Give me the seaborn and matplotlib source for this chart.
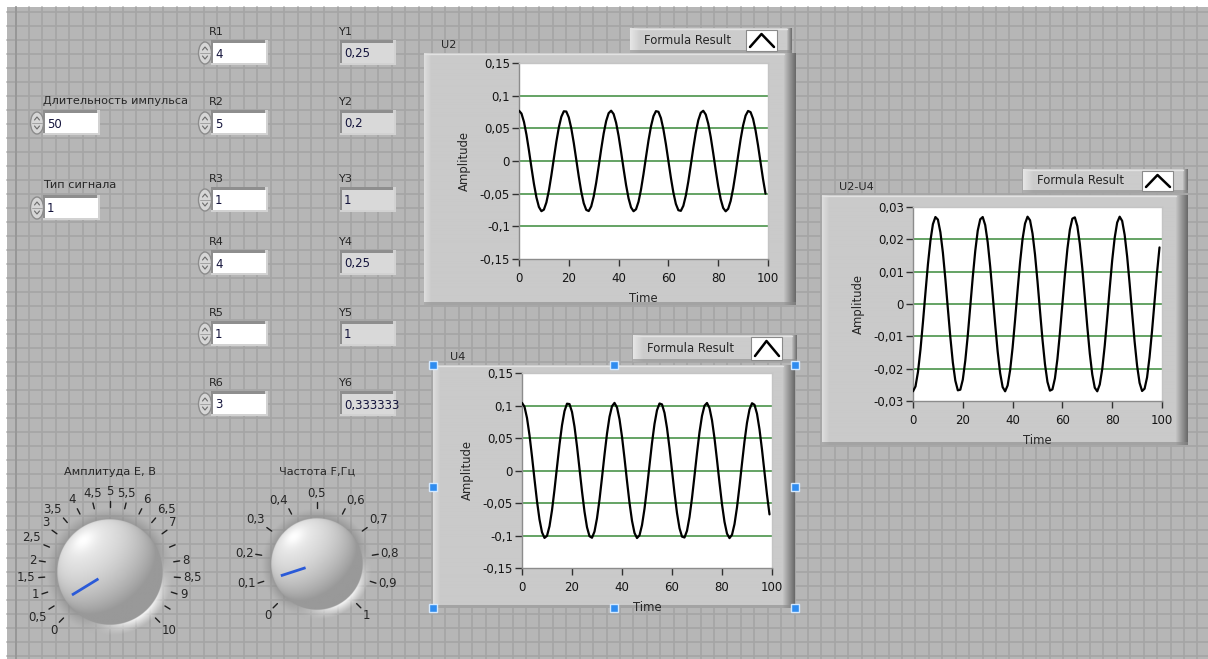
import numpy as np
import matplotlib
matplotlib.use("Agg")
import matplotlib.pyplot as plt
import seaborn as sns
from matplotlib.patches import Rectangle, Ellipse

sns.set_style("white")
plt.rcParams['font.family'] = ['DejaVu Sans']
FS = 8.1
W, H = 1208, 659

# ---------- data ----------
time = list(range(100))

u2 = [0.0770, 0.0726, 0.0598, 0.0402, 0.0160, -0.0101, -0.0350, -0.0558, -0.0704, -0.0768,
      -0.0744, -0.0634, -0.0453, -0.0219, 0.0040, 0.0295, 0.0515, 0.0677, 0.0761, 0.0757,
      0.0667, 0.0500, 0.0276, 0.0020, -0.0238, -0.0469, -0.0646, -0.0748, -0.0766, -0.0695,
      -0.0544, -0.0332, -0.0081, 0.0179, 0.0420, 0.0611, 0.0732, 0.0770, 0.0719, 0.0585,
      0.0385, 0.0140, -0.0120, -0.0367, -0.0572, -0.0711, -0.0769, -0.0738, -0.0623, -0.0436,
      -0.0199, 0.0060, 0.0313, 0.0530, 0.0686, 0.0763, 0.0753, 0.0657, 0.0484, 0.0257,
      0.0000, -0.0257, -0.0484, -0.0657, -0.0753, -0.0763, -0.0686, -0.0530, -0.0313, -0.0060,
      0.0199, 0.0436, 0.0623, 0.0738, 0.0769, 0.0711, 0.0572, 0.0367, 0.0120, -0.0140,
      -0.0385, -0.0585, -0.0719, -0.0770, -0.0732, -0.0611, -0.0420, -0.0179, 0.0081, 0.0332,
      0.0544, 0.0695, 0.0766, 0.0748, 0.0646, 0.0469, 0.0238, -0.0020, -0.0276, -0.0500]

u4 = [0.1040, 0.0981, 0.0808, 0.0543, 0.0216, -0.0136, -0.0472, -0.0754, -0.0951, -0.1037,
      -0.1005, -0.0857, -0.0612, -0.0295, 0.0054, 0.0398, 0.0696, 0.0914, 0.1028, 0.1022,
      0.0901, 0.0675, 0.0372, 0.0027, -0.0321, -0.0633, -0.0873, -0.1011, -0.1035, -0.0939,
      -0.0735, -0.0448, -0.0109, 0.0242, 0.0567, 0.0825, 0.0989, 0.1040, 0.0971, 0.0790,
      0.0520, 0.0189, -0.0162, -0.0496, -0.0773, -0.0961, -0.1039, -0.0997, -0.0841, -0.0589,
      -0.0269, 0.0081, 0.0423, 0.0716, 0.0927, 0.1031, 0.1017, 0.0887, 0.0654, 0.0347,
      0.0000, -0.0347, -0.0654, -0.0887, -0.1017, -0.1031, -0.0927, -0.0716, -0.0423, -0.0081,
      0.0269, 0.0589, 0.0841, 0.0997, 0.1039, 0.0961, 0.0773, 0.0496, 0.0162, -0.0189,
      -0.0520, -0.0790, -0.0971, -0.1040, -0.0989, -0.0825, -0.0567, -0.0242, 0.0109, 0.0448,
      0.0735, 0.0939, 0.1035, 0.1011, 0.0873, 0.0633, 0.0321, -0.0027, -0.0372, -0.0675]

u2_u4 = [-0.0270, -0.0255, -0.0210, -0.0141, -0.0056, 0.0035, 0.0123, 0.0196, 0.0247, 0.0269,
         0.0261, 0.0222, 0.0159, 0.0077, -0.0014, -0.0103, -0.0181, -0.0237, -0.0267, -0.0265,
         -0.0234, -0.0175, -0.0097, -0.0007, 0.0083, 0.0164, 0.0227, 0.0262, 0.0269, 0.0244,
         0.0191, 0.0116, 0.0028, -0.0063, -0.0147, -0.0214, -0.0257, -0.0270, -0.0252, -0.0205,
         -0.0135, -0.0049, 0.0042, 0.0129, 0.0201, 0.0249, 0.0270, 0.0259, 0.0218, 0.0153,
         0.0070, -0.0021, -0.0110, -0.0186, -0.0241, -0.0268, -0.0264, -0.0230, -0.0170, -0.0090,
         0.0000, 0.0090, 0.0170, 0.0230, 0.0264, 0.0268, 0.0241, 0.0186, 0.0110, 0.0021,
         -0.0070, -0.0153, -0.0218, -0.0259, -0.0270, -0.0249, -0.0201, -0.0129, -0.0042, 0.0049,
         0.0135, 0.0205, 0.0252, 0.0270, 0.0257, 0.0214, 0.0147, 0.0063, -0.0028, -0.0116,
         -0.0191, -0.0244, -0.0269, -0.0262, -0.0227, -0.0164, -0.0083, 0.0007, 0.0097, 0.0175]

time_ticks = [0, 20, 40, 60, 80, 100]
u_ticks = [0.15, 0.1, 0.05, 0, -0.05, -0.1, -0.15]
u_ticklabels = ['0,15', '0,1', '0,05', '0', '-0,05', '-0,1', '-0,15']
u_grid = [0.1, 0.05, 0, -0.05, -0.1]
d_ticks = [0.03, 0.02, 0.01, 0, -0.01, -0.02, -0.03]
d_ticklabels = ['0,03', '0,02', '0,01', '0', '-0,01', '-0,02', '-0,03']
d_grid = [0.02, 0.01, 0, -0.01, -0.02]

r_names = ['R1', 'R2', 'R3', 'R4', 'R5', 'R6']
r_values = ['4', '5', '1', '4', '1', '3']
y_names = ['Y1', 'Y2', 'Y3', 'Y4', 'Y5', 'Y6']
y_values = ['0,25', '0,2', '1', '0,25', '1', '0,333333']
pulse_label, pulse_value = 'Длительность импульса', '50'
signal_label, signal_value = 'Тип сигнала', '1'

amp_ticks = [0, 0.5, 1, 1.5, 2, 2.5, 3, 3.5, 4, 4.5, 5, 5.5, 6, 6.5, 7, 7.5, 8, 8.5, 9, 9.5, 10]
amp_labels = ['0', '0,5', '1', '1,5', '2', '2,5', '3', '3,5', '4', '4,5', '5', '5,5', '6',
              '6,5', '7', '', '8', '8,5', '9', '', '10']
amp_value = 0.5
freq_ticks = [0, 0.1, 0.2, 0.3, 0.4, 0.5, 0.6, 0.7, 0.8, 0.9, 1]
freq_labels = ['0', '0,1', '0,2', '0,3', '0,4', '0,5', '0,6', '0,7', '0,8', '0,9', '1']
freq_value = 0.1

# ---------- layout (pixels) ----------
row_top = [43, 113, 190, 253, 324, 394]
BOX_H = 20

fig = plt.figure(figsize=(W / 100, H / 100), dpi=100)
fig.patch.set_facecolor('white')
bg = fig.add_axes([0, 0, 1, 1])
bg.axis('off')


def px_axes(x0, y0, x1, y1):
    return fig.add_axes([x0 / W, 1 - y1 / H, (x1 - x0) / W, (y1 - y0) / H])


# panel background with the block grid
bg.add_patch(Rectangle((7, 7), W - 7, H - 7, fc='#b6b6b6', ec='none', zorder=0))
for x in np.arange(15.6, W, 13.43):
    bg.plot([x, x], [7, H], color='#a5a5a5', lw=1.2, zorder=0.5)
for y in np.arange(12.3, H, 13.985):
    bg.plot([7, W], [y, y], color='#a5a5a5', lw=1.2, zorder=0.5)
bg.plot([15.6, 15.6], [7, H], color='#969696', lw=1.3, zorder=0.6)


def bevel(x0, y0, x1, y1, base=0.79, left=0.87, right=0.42, lw_=7, rw=12, z=1):
    n = max(int(x1 - x0), 2)
    prof = np.full(n, base)
    for i in range(min(lw_, n)):
        prof[i] = left + (base - left) * i / lw_
    for i in range(min(rw, n)):
        prof[n - rw + i] = base + (right - base) * (i + 1) / rw
    img = np.tile(prof, (2, 1))
    bg.imshow(img, cmap='gray', vmin=0, vmax=1, extent=(x0, x1, y1, y0),
              aspect='auto', zorder=z, interpolation='bilinear')
    bg.plot([x0, x1 - rw], [y0 + 0.5, y0 + 0.5], color='#e2e2e2', lw=1, zorder=z + 0.1)
    bg.add_patch(Rectangle((x0, y1 - 3), x1 - x0, 3, fc='#8a8a8a', ec='none', alpha=0.6, zorder=z + 0.1))


def numeric(x0, y0, w, text, fill, spinner):
    h = BOX_H
    bg.add_patch(Rectangle((x0 - 2, y0 - 3), w + 4, h + 5, fc='#d2d2d2', ec='none', zorder=2))
    bg.add_patch(Rectangle((x0 - 2, y0 - 3), w + 1, h + 3, fc='#8e8e8e', ec='none', zorder=2.1))
    bg.add_patch(Rectangle((x0, y0), w, h, fc=fill, ec='none', zorder=2.2))
    t = bg.text(x0 + 2, y0 + h / 2 + 1, text, ha='left', va='center', fontsize=FS + 0.4,
                color='#14143c', zorder=2.3)
    t.set_clip_path(Rectangle((x0, y0), w - 3, h, transform=bg.transData))
    if spinner:
        cx, cy = x0 - 8, y0 + h / 2
        bg.add_patch(Ellipse((cx, cy), 13, h + 2, fc='#d6d6d6', ec='#8c8c8c', lw=1, zorder=2.4))
        bg.plot([cx - 2.5, cx, cx + 2.5], [cy - 3, cy - 6, cy - 3], color='#6a6a6a', lw=0.8, zorder=2.5)
        bg.plot([cx - 2.5, cx, cx + 2.5], [cy + 3, cy + 6, cy + 3], color='#6a6a6a', lw=0.8, zorder=2.5)
        bg.plot([cx - 5, cx + 5], [cy, cy], color='#9a9a9a', lw=0.6, zorder=2.5)


# numeric controls and indicators
for name, val, top in zip(r_names, r_values, row_top):
    bg.text(209, top - 11, name, ha='left', va='center', fontsize=FS, zorder=3)
    numeric(213, top, 53, val, 'white', True)
for name, val, top in zip(y_names, y_values, row_top):
    bg.text(338, top - 11, name, ha='left', va='center', fontsize=FS, zorder=3)
    numeric(342, top, 52, val, '#d9d9d9', False)

bg.text(43, 101, pulse_label, ha='left', va='center', fontsize=FS, zorder=3)
numeric(45, 113, 53, pulse_value, 'white', True)
bg.text(43, 185, signal_label, ha='left', va='center', fontsize=FS, zorder=3)
numeric(45, 198, 53, signal_value, 'white', True)


# ---------- knobs ----------
def sphere(cx, cy, R, pad, n=260):
    size = R + pad
    xs = np.linspace(-size, size, n)
    X, Y = np.meshgrid(xs, xs)
    r = np.hypot(X, Y)
    px = 2 * size / n
    ang = np.arctan2(-Y, X)
    w = np.clip(np.cos(ang + np.deg2rad(50)), 0, 1) ** 2
    t = np.clip((r - R) / pad, 0, 1)
    hv = 0.55 * (1 - w) + 1.0 * w
    ha = (0.7 * (1 - w) + 0.95 * w) * (1 - t) ** 1.2
    rr = np.clip(r / R, 0, 1)
    nz = np.sqrt(1 - rr ** 2)
    L = np.array([-0.5, 0.6, 0.62])
    L = L / np.linalg.norm(L)
    d = np.clip(X / R * L[0] + (-Y / R) * L[1] + nz * L[2], 0, 1)
    bv = 0.60 + 0.32 * d + 0.08 * d ** 30
    ba = np.clip((R - r) / px + 0.5, 0, 1)
    rgba = np.zeros((n, n, 4))
    rgba[..., :3] = (bv * ba + hv * (1 - ba))[..., None]
    rgba[..., 3] = ba + ha * (1 - ba)
    bg.imshow(rgba, extent=(cx - size, cx + size, cy + size, cy - size),
              aspect='auto', zorder=3, interpolation='bilinear')


def knob(cx, cy, R, pad, ticks, labels, value, title, title_y, rt0, rt1, rl, nr0, nr1):
    sphere(cx, cy, R, pad)
    vmin, vmax = ticks[0], ticks[-1]
    for v, lab in zip(ticks, labels):
        th = np.deg2rad(225 - 270 * (v - vmin) / (vmax - vmin))
        c, s = np.cos(th), np.sin(th)
        bg.plot([cx + rt0 * c, cx + rt1 * c], [cy - rt0 * s, cy - rt1 * s],
                color='#1e1e1e', lw=1, zorder=4)
        if lab:
            ha = 'left' if c > 0.35 else ('right' if c < -0.35 else 'center')
            va = 'bottom' if s > 0.35 else ('top' if s < -0.35 else 'center')
            bg.text(cx + rl * c, cy - rl * s, lab, ha=ha, va=va, fontsize=FS + 0.4, zorder=4)
    th = np.deg2rad(225 - 270 * (value - vmin) / (vmax - vmin))
    c, s = np.cos(th), np.sin(th)
    bg.plot([cx + nr0 * c, cx + nr1 * c], [cy - nr0 * s, cy - nr1 * s],
            color='#2a5ad8', lw=2, zorder=5, solid_capstyle='butt')
    bg.text(cx, title_y, title, ha='center', va='center', fontsize=FS, zorder=4)


knob(109.5, 572, 53, 11, amp_ticks, amp_labels, amp_value, 'Амплитуда Е, В', 472,
     65, 71, 74, 13, 44)
knob(317, 564, 46, 10, freq_ticks, freq_labels, freq_value, 'Частота F,Гц', 472,
     56, 62, 64, 12, 38)


# ---------- waveform graphs ----------
def graph(name, frame, plot, legend, data, ticks, ticklabels, grid_vals, ylim, handles=False):
    fx0, fy0, fx1, fy1 = frame
    bevel(fx0, fy0, fx1, fy1)
    bg.text(fx0 + 17, fy0 - 8, name, ha='left', va='center', fontsize=FS, zorder=3)
    lx0, ly0, lx1, ly1 = legend
    bevel(lx0, ly0, lx1, ly1, base=0.80, left=0.90, right=0.45, lw_=10, rw=5, z=1.5)
    bg.text(lx0 + 14, (ly0 + ly1) / 2, 'Formula Result', ha='left', va='center',
            fontsize=FS + 0.3, zorder=3)
    ix0, ix1 = lx1 - 46, lx1 - 15
    bg.add_patch(Rectangle((ix0, ly0 + 1.5), ix1 - ix0, ly1 - ly0 - 3.5, fc='white',
                           ec='#8a8a8a', lw=0.8, zorder=3))
    bg.plot([ix0 + 4, (ix0 + ix1) / 2, ix1 - 3], [ly1 - 6, ly0 + 6, ly1 - 6],
            color='black', lw=1.8, zorder=3.1)
    if handles:
        xm, ym = (fx0 + fx1) / 2, (fy0 + fy1) / 2
        for hx, hy in [(fx0, fy0), (xm, fy0), (fx1, fy0), (fx0, ym), (fx1, ym),
                       (fx0, fy1), (xm, fy1), (fx1, fy1)]:
            bg.add_patch(Rectangle((hx - 4, hy - 4), 8, 8, fc='#2f8cf0', ec='#d4e9ff',
                                   lw=1, zorder=6))

    ax = px_axes(*plot)
    ax.set_facecolor('white')
    for g in grid_vals:
        ax.axhline(g, color='#3a8a3a', lw=1.1, zorder=1)
    sns.lineplot(x=time, y=data, ax=ax, color='black', lw=1.6, zorder=3)
    ax.set_xlim(0, 100)
    ax.set_ylim(*ylim)
    ax.set_xticks(time_ticks)
    ax.set_xticklabels([str(t) for t in time_ticks])
    ax.set_yticks(ticks)
    ax.set_yticklabels(ticklabels)
    ax.tick_params(axis='both', direction='out', length=5, width=1, color='#303030',
                   labelsize=FS + 0.4, labelcolor='#141414')
    ax.tick_params(axis='x', pad=4.5, bottom=True)
    ax.tick_params(axis='y', pad=1.5, left=True)
    ax.set_xlabel('Time', fontsize=FS + 0.3, labelpad=5)
    ax.set_ylabel('Amplitude', fontsize=FS + 0.3, labelpad=6)
    for side in ['left', 'bottom']:
        ax.spines[side].set_color('#8c8c8c')
    for side in ['top', 'right']:
        ax.spines[side].set_color('#c4c4c4')
    for sp in ax.spines.values():
        sp.set_linewidth(1)
    return ax


graph('U2', (424, 53, 796, 305), (519, 63, 768, 259), (630, 28, 792, 53),
      u2, u_ticks, u_ticklabels, u_grid, (-0.15, 0.15))
graph('U4', (433, 365, 795, 608), (522, 373, 772, 568), (633, 335, 797, 362),
      u4, u_ticks, u_ticklabels, u_grid, (-0.15, 0.15), handles=True)
graph('U2-U4', (822, 195, 1188, 445), (913, 207, 1162, 401), (1023, 169, 1188, 193),
      u2_u4, d_ticks, d_ticklabels, d_grid, (-0.03, 0.03))

bg.set_xlim(0, W)
bg.set_ylim(H, 0)

fig.savefig('out.png', dpi=100)
plt.close(fig)
